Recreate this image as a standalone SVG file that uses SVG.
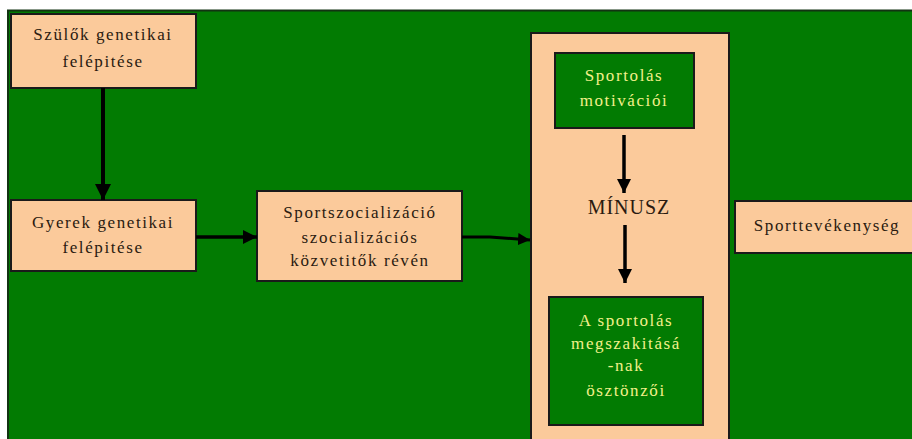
<svg xmlns="http://www.w3.org/2000/svg" width="912" height="439" viewBox="0 0 912 439">
<defs>
<marker id="ah" viewBox="0 0 10 10" refX="10" refY="5" markerWidth="4" markerHeight="4" markerUnits="strokeWidth" orient="auto">
<path d="M0,0 L10,5 L0,10 z" fill="#000"/>
</marker>
</defs>
<style>
.peach{fill:#fbca9b;stroke:#1a1a1a;stroke-width:2}
.gbox{fill:#027b02;stroke:#1a1a1a;stroke-width:2}
text{font-family:'Liberation Serif','DejaVu Serif',serif;font-size:17px;letter-spacing:1.6px;text-anchor:middle}
.t{fill:#2a1a10}
.tg{fill:#f2f08a}
.c{stroke:#000;fill:none;marker-end:url(#ah)}
</style>
<rect x="0" y="0" width="912" height="439" fill="#fff"/>
<rect x="8" y="10.5" width="905" height="430" fill="#027b02" stroke="#123312" stroke-width="2"/>
<g id="n-szulok">
<rect class="peach" x="11" y="14" width="185" height="74"/>
<text class="t" x="103" y="40">Szülők genetikai</text>
<text class="t" x="103" y="67">felépitése</text>
</g>
<g id="n-gyerek">
<rect class="peach" x="11" y="200" width="185" height="71"/>
<text class="t" x="103" y="228">Gyerek genetikai</text>
<text class="t" x="103" y="253">felépitése</text>
</g>
<g id="n-sportszoc">
<rect class="peach" x="257" y="191" width="205" height="90"/>
<text class="t" x="360" y="218">Sportszocializáció</text>
<text class="t" x="360" y="243">szocializációs</text>
<text class="t" x="360" y="266">közvetitők révén</text>
</g>
<g id="n-minusz">
<rect class="peach" x="531" y="33" width="198" height="420"/>
<text class="t" x="629" y="214" style="font-size:20px;letter-spacing:1px">MÍNUSZ</text>
</g>
<g id="n-motiv">
<rect class="gbox" x="555" y="53" width="139" height="75"/>
<text class="tg" x="624" y="81">Sportolás</text>
<text class="tg" x="624" y="106">motivációi</text>
</g>
<g id="n-osztonzoi">
<rect class="gbox" x="549" y="297" width="154" height="128"/>
<text class="tg" x="626" y="326">A sportolás</text>
<text class="tg" x="626" y="349">megszakitásá</text>
<text class="tg" x="626" y="371">-nak</text>
<text class="tg" x="626" y="396">ösztönzői</text>
</g>
<g id="n-sporttev">
<rect class="peach" x="735" y="201" width="190" height="52"/>
<text class="t" x="827" y="231">Sporttevékenység</text>
</g>
<g id="connectors">
<line class="c" x1="103" y1="88" x2="103" y2="200" stroke-width="4"/>
<line class="c" x1="196" y1="237" x2="257" y2="237" stroke-width="3.5"/>
<polyline class="c" points="462,237 490,237 530,240" stroke-width="3"/>
<line class="c" x1="624" y1="135" x2="624" y2="193" stroke-width="3.5"/>
<line class="c" x1="625" y1="225" x2="625" y2="283" stroke-width="3.5"/>
</g>
</svg>
